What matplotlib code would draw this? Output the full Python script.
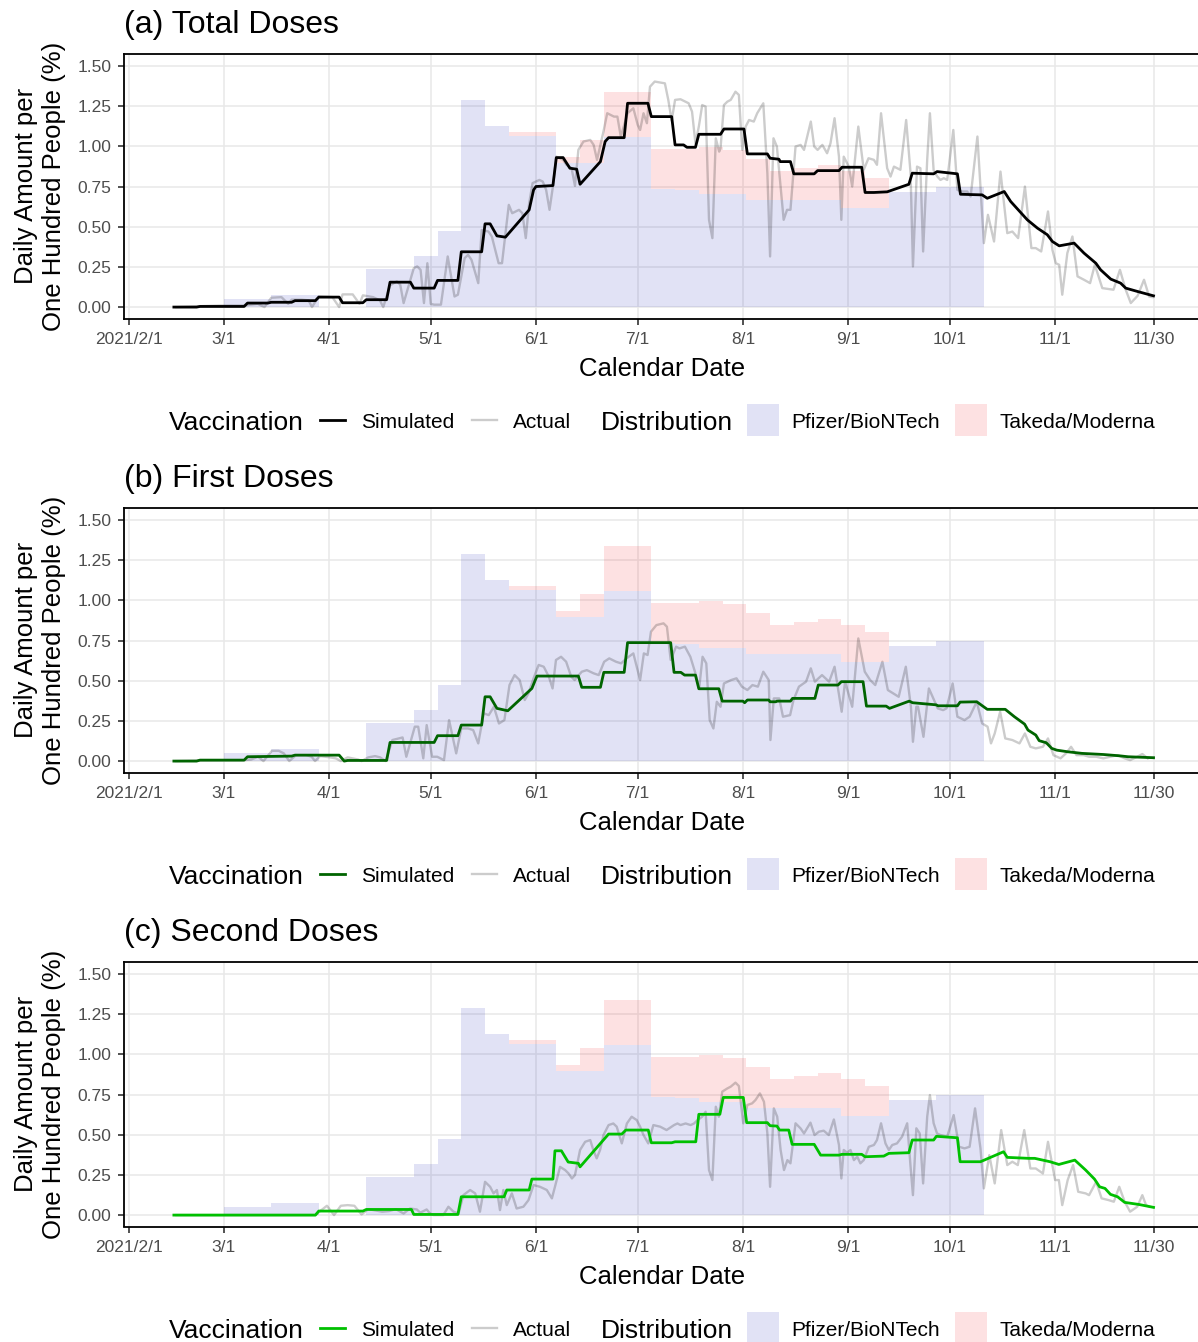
import numpy as np
import matplotlib
matplotlib.use('Agg')
import matplotlib.pyplot as plt
from matplotlib.lines import Line2D
from matplotlib.patches import Rectangle

# ---------------- data (days since 2021-02-01) ----------------
tick_dates = ['2021-02-01', '2021-03-01', '2021-04-01', '2021-05-01', '2021-06-01', '2021-07-01',
              '2021-08-01', '2021-09-01', '2021-10-01', '2021-11-01', '2021-11-30']
tick_labels = ['2021/2/1', '3/1', '4/1', '5/1', '6/1', '7/1', '8/1', '9/1', '10/1', '11/1', '11/30']
y_ticks = [0.0, 0.25, 0.5, 0.75, 1.0, 1.25, 1.5]

# weekly distribution (week start day, amount per 100 people)
dist_day = [28, 35, 42, 49, 56, 63, 70, 77, 84, 91, 98, 105, 112, 119, 126, 133, 140, 147, 154,
            161, 168, 175, 182, 189, 196, 203, 210, 217, 224, 231, 238, 245, 252]
pfizer = [0.052, 0.052, 0.073, 0.073, 0.0, 0.0, 0.24, 0.24, 0.317, 0.475, 1.288, 1.127, 1.062, 1.062,
          0.896, 0.896, 1.06, 1.06, 0.733, 0.729, 0.705, 0.705, 0.664, 0.664, 0.664, 0.664, 0.614,
          0.614, 0.718, 0.718, 0.744, 0.744, 0.0]
takeda = [0, 0, 0, 0, 0, 0, 0, 0, 0, 0, 0, 0, 0.028, 0.028, 0.039, 0.142, 0.277, 0.277, 0.252,
          0.256, 0.293, 0.272, 0.255, 0.18, 0.201, 0.222, 0.23, 0.186, 0, 0, 0, 0, 0]

# (a) total doses
total_sim_day = [13.3, 20, 21, 34, 35, 41, 42, 48, 49, 55, 56, 62, 63, 69, 70, 76, 77, 83, 84, 90, 91, 97,
                 98, 104, 105, 106.5, 108.5, 111, 118, 119.3, 120, 125, 126, 128, 130, 132, 133, 139,
                 140.4, 141.4, 146, 147, 153, 154, 160, 161, 163.5, 164.5, 167, 168, 174.4, 175.4,
                 181.3, 182.3, 188.2, 189, 191.6, 192, 195, 196, 202, 203, 209.3, 210.2, 216, 217,
                 219.6, 223.5, 229.9, 230.9, 237.2, 238.2, 244.2, 245.1, 251.5, 253, 258, 259.9, 264.8,
                 267.8, 270.7, 272.2, 274.2, 278.6, 281.5, 285, 286.4, 289.4, 292.3, 293.8, 297.3, 302]
total_sim = [0.0, 0.0, 0.004, 0.004, 0.025, 0.025, 0.03, 0.03, 0.04, 0.04, 0.062, 0.062, 0.027, 0.027,
             0.046, 0.046, 0.155, 0.155, 0.118, 0.118, 0.166, 0.166, 0.344, 0.344, 0.518, 0.518, 0.443,
             0.435, 0.605, 0.729, 0.75, 0.756, 0.93, 0.93, 0.864, 0.858, 0.764, 0.905, 1.03, 1.054,
             1.054, 1.268, 1.268, 1.185, 1.185, 1.009, 1.009, 0.994, 0.994, 1.075, 1.075, 1.108,
             1.108, 0.953, 0.953, 0.926, 0.92, 0.905, 0.905, 0.829, 0.829, 0.849, 0.849, 0.87, 0.87,
             0.713, 0.713, 0.717, 0.764, 0.833, 0.829, 0.843, 0.829, 0.702, 0.698, 0.677, 0.719,
             0.657, 0.543, 0.491, 0.45, 0.408, 0.381, 0.398, 0.336, 0.273, 0.232, 0.174, 0.149,
             0.118, 0.097, 0.070]
total_act_day = [14, 20, 27, 34, 38, 40, 42, 45, 47, 48, 51, 53, 54, 56, 60, 62, 63, 66, 68, 69, 72, 74,
                 75, 77, 79, 80, 81, 84, 85, 86, 87, 88, 89, 90, 92, 94, 96, 97, 99, 100, 101, 103,
                 104, 106, 107, 109, 110, 112, 113, 115, 116, 117, 118, 119, 121, 122, 123, 124, 125,
                 126, 128, 129, 130.5, 131.5, 132.5, 134, 136, 137, 138, 140, 141, 143, 144, 145, 147,
                 148.7, 150, 150.7, 151.7, 152.7, 153.6, 155, 157, 158, 159, 160, 161, 162.6, 164, 165,
                 166, 167, 168, 169, 170, 171, 172, 173, 174, 174.4, 175.4, 176.4, 177.4, 178.8,
                 179.8, 180.8, 181.8, 182.8, 184.2, 185.2, 187, 188.2, 189, 190, 191, 192, 193, 194,
                 195, 196.5, 198, 199, 201, 202, 203, 204.4, 205.8, 206.8, 208, 209.3, 210, 210.7,
                 212.2, 213.2, 215, 216.6, 218, 219.6, 220.5, 221.7, 223.5, 224.5, 225.5, 227.4,
                 229.1, 230.4, 231.1, 232.3, 233.3, 234.1, 235.3, 236.1, 237.2, 238.3, 239.2, 240.2,
                 241.2, 243, 244.2, 245.6, 247.1, 248.1, 250.1, 252, 253.2, 255, 256.9, 258.9, 260.4,
                 262.1, 264.1, 266, 267.3, 268.9, 270.9, 272.2, 273.2, 274.2, 275.1, 276.6, 278.1,
                 279.6, 281.5, 283.3, 284.7, 286.9, 288.9, 290.2, 292.1, 293.8, 295.3, 297.3, 299.2,
                 300.7, 301.7]
total_act = [0.0, 0.005, 0.01, 0.01, 0.02, 0.0, 0.058, 0.062, 0.02, 0.046, 0.046, 0.042, 0.0, 0.067,
             0.062, 0.0, 0.079, 0.079, 0.02, 0.073, 0.062, 0.042, 0.0, 0.135, 0.16, 0.14, 0.025,
             0.242, 0.253, 0.232, 0.025, 0.273, 0.02, 0.015, 0.015, 0.315, 0.066, 0.077, 0.305,
             0.325, 0.294, 0.149, 0.48, 0.47, 0.439, 0.273, 0.273, 0.636, 0.584, 0.605, 0.584,
             0.429, 0.646, 0.771, 0.791, 0.781, 0.729, 0.605, 0.75, 0.936, 0.916, 0.885, 0.864,
             0.754, 0.978, 1.03, 1.04, 1.009, 0.916, 1.102, 1.206, 1.185, 1.185, 1.061, 1.206,
             1.237, 1.133, 1.102, 1.206, 1.144, 1.371, 1.403, 1.396, 1.392, 1.289, 1.16, 1.289,
             1.293, 1.278, 1.268, 1.216, 1.019, 1.123, 1.257, 1.247, 0.543, 0.429, 1.05, 0.967,
             0.988, 1.257, 1.278, 1.289, 1.34, 1.32, 0.978, 1.123, 1.164, 1.154, 1.206, 1.268,
             0.833, 0.315, 1.05, 0.999, 0.771, 0.543, 0.605, 0.605, 0.999, 1.009, 0.978, 1.154,
             0.999, 0.978, 1.009, 0.957, 1.019, 1.175, 0.936, 0.543, 0.936, 0.874, 0.75, 1.123,
             0.854, 0.926, 0.916, 0.885, 1.206, 0.864, 0.812, 0.874, 0.854, 1.164, 0.833, 0.253,
             0.874, 0.864, 0.346, 0.916, 1.206, 0.85, 0.812, 0.791, 0.802, 0.791, 1.102, 0.729,
             0.719, 0.719, 0.688, 1.061, 0.398, 0.574, 0.408, 0.843, 0.46, 0.47, 0.429, 0.75,
             0.367, 0.367, 0.346, 0.595, 0.356, 0.273, 0.263, 0.077, 0.336, 0.439, 0.191, 0.17,
             0.149, 0.263, 0.118, 0.112, 0.108, 0.232, 0.108, 0.025, 0.07, 0.17, 0.066, 0.062]

# (b) first doses
first_sim_day = [13.3, 20, 21, 34, 35, 48, 49, 62, 63.5, 64.5, 76, 77, 90, 91, 97, 98, 104, 105, 106.5,
                 108.5, 111.7, 118.8, 120.3, 132.5, 133.5, 139, 140, 146, 147, 159.7, 160.7, 162.7,
                 163.8, 167, 168, 173.9, 174.9, 181, 181.5, 182.3, 188.6, 189, 190.7, 191, 195, 195.6,
                 202.2, 203.2, 209, 210, 216.4, 217.4, 223.2, 224.2, 230, 231, 237.9, 238.5, 244.2,
                 245, 249.9, 253, 258.3, 261, 264, 265, 267.3, 268.3, 270.4, 272, 273.5, 276.7, 280.9,
                 287.2, 291.9, 294.5, 302]
first_sim = [0.0, 0.0, 0.006, 0.006, 0.027, 0.031, 0.037, 0.037, 0.0, 0.004, 0.004, 0.116, 0.116,
             0.158, 0.158, 0.224, 0.224, 0.40, 0.40, 0.328, 0.313, 0.452, 0.529, 0.529, 0.459, 0.459,
             0.552, 0.552, 0.737, 0.737, 0.552, 0.552, 0.535, 0.535, 0.45, 0.45, 0.373, 0.373, 0.363,
             0.38, 0.38, 0.369, 0.369, 0.373, 0.373, 0.39, 0.39, 0.473, 0.473, 0.494, 0.494, 0.342,
             0.342, 0.328, 0.373, 0.363, 0.35, 0.344, 0.344, 0.367, 0.369, 0.322, 0.322, 0.276, 0.23,
             0.193, 0.162, 0.127, 0.114, 0.079, 0.068, 0.058, 0.048, 0.041, 0.033, 0.027, 0.021]
first_act_day = [14, 20, 34, 36.1, 38.1, 39.7, 42.2, 44.2, 45.7, 47.3, 49.3, 52.3, 53.9, 54.9, 56.4, 59.4,
                 61, 62.5, 64.5, 67.6, 68.6, 70.6, 72.6, 74.1, 75.7, 77.7, 80.7, 81.8, 84.3, 85.3, 86.8,
                 87.8, 89.4, 90.9, 92.9, 94.4, 96.5, 98, 100, 101.5, 103, 104.6, 106.1, 107.6, 109.1,
                 110.7, 112.2, 113.7, 115.2, 116.7, 117.8, 119.3, 120.8, 122.3, 123.8, 124.9, 125.9,
                 127.4, 128.9, 130.4, 131.4, 133.5, 135, 137, 138.5, 140.1, 141.6, 143.6, 145.1, 146.7,
                 148.7, 150.7, 151.8, 152.9, 153.9, 155.5, 157.6, 158.6, 159.7, 161.3, 162.3, 163.9,
                 165.5, 167, 168.1, 169.1, 170.2, 171.2, 172.3, 173.3, 174.4, 175.4, 177.5, 179.1,
                 180.7, 182.3, 183.8, 185.4, 187, 188.6, 189.1, 190.1, 191.7, 192.8, 194.9, 195.9,
                 197.5, 199.6, 201, 202.2, 204.3, 206.4, 208, 210.1, 211.1, 213.2, 215, 216.9, 218.5,
                 220, 222.1, 223.7, 225.3, 226.9, 229, 230.5, 231.1, 232.1, 232.6, 234.2, 235.8,
                 237.3, 238.4, 240, 241, 242.8, 244.2, 246.3, 247.8, 249.9, 251.5, 253.1, 254.1, 255.2,
                 256.8, 258.3, 260.4, 262.5, 264.1, 265.7, 267.3, 269.4, 270.9, 272.5, 274.6, 276.2,
                 277.7, 279.3, 281.4, 283, 285.1, 287.2, 289.3, 291.4, 293.5, 295.1, 297.2, 298.7,
                 300.3]
first_act = [0.0, 0.004, 0.006, 0.01, 0.027, 0.0, 0.064, 0.064, 0.048, 0.0, 0.037, 0.037, 0.027, 0.0,
             0.031, 0.023, 0.017, 0.0, 0.023, 0.01, 0.0, 0.023, 0.031, 0.023, 0.0, 0.131, 0.147,
             0.027, 0.214, 0.214, 0.017, 0.224, 0.027, 0.027, 0.006, 0.255, 0.048, 0.203, 0.203,
             0.193, 0.11, 0.297, 0.286, 0.338, 0.234, 0.255, 0.473, 0.535, 0.504, 0.38, 0.421,
             0.515, 0.598, 0.587, 0.525, 0.452, 0.629, 0.649, 0.618, 0.525, 0.504, 0.556, 0.566,
             0.546, 0.535, 0.618, 0.639, 0.618, 0.608, 0.639, 0.67, 0.504, 0.67, 0.66, 0.805, 0.846,
             0.857, 0.836, 0.629, 0.712, 0.701, 0.712, 0.649, 0.546, 0.452, 0.649, 0.608, 0.255,
             0.203, 0.369, 0.338, 0.483, 0.504, 0.515, 0.463, 0.442, 0.473, 0.463, 0.556, 0.504,
             0.131, 0.39, 0.39, 0.276, 0.286, 0.38, 0.463, 0.494, 0.577, 0.494, 0.535, 0.494, 0.587,
             0.307, 0.494, 0.338, 0.763, 0.556, 0.504, 0.473, 0.618, 0.442, 0.421, 0.40, 0.587,
             0.338, 0.12, 0.338, 0.338, 0.151, 0.452, 0.38, 0.328, 0.317, 0.328, 0.483, 0.276,
             0.255, 0.276, 0.369, 0.234, 0.214, 0.11, 0.172, 0.307, 0.141, 0.131, 0.11, 0.172,
             0.089, 0.079, 0.089, 0.141, 0.037, 0.017, 0.048, 0.089, 0.037, 0.037, 0.027, 0.027,
             0.017, 0.027, 0.037, 0.017, 0.006, 0.027, 0.044, 0.017]

# (c) second doses
second_sim_day = [13.3, 55, 56, 69, 70, 83.3, 84, 97, 98, 110.6, 111.4, 118, 118.8, 125, 125.6, 127.5,
                  129.5, 132.5, 133, 141.4, 145.3, 146.5, 153.1, 154, 160, 161, 167.1, 168, 174.2,
                  175.2, 181.1, 182.1, 188.2, 189, 191, 191.8, 194.5, 195.5, 202, 203.9, 209.3, 210.2,
                  216, 217, 222.5, 224, 229.9, 230.9, 237.2, 238, 244.2, 245, 251, 257.8, 258.9, 265.2,
                  267, 271.5, 274.1, 278.8, 282, 284.6, 286.1, 287.7, 289.3, 291.4, 293.5, 297.7, 302]
second_sim = [0.0, 0.0, 0.025, 0.025, 0.035, 0.035, 0.004, 0.004, 0.114, 0.114, 0.156, 0.156, 0.224,
              0.224, 0.40, 0.40, 0.33, 0.322, 0.30, 0.504, 0.504, 0.529, 0.529, 0.45, 0.45, 0.456,
              0.456, 0.627, 0.627, 0.732, 0.732, 0.575, 0.575, 0.556, 0.554, 0.529, 0.529, 0.44, 0.44,
              0.373, 0.373, 0.378, 0.378, 0.363, 0.367, 0.384, 0.388, 0.467, 0.467, 0.49, 0.481, 0.332,
              0.332, 0.394, 0.359, 0.353, 0.353, 0.332, 0.315, 0.342, 0.28, 0.224, 0.176, 0.166, 0.129,
              0.114, 0.079, 0.066, 0.048]
second_act_day = [14, 55, 56.4, 58.4, 60.5, 62.5, 64.5, 66.5, 68.6, 70.6, 74.7, 76.7, 78.7, 81, 82.9,
                  84.9, 85.9, 87.8, 88.8, 89.8, 92.7, 94.2, 95.7, 97.2, 98.6, 100.6, 102.1, 103.5, 105,
                  106.5, 107.5, 108.5, 109.4, 110.4, 111.4, 112.9, 114.3, 116.3, 117.8, 119.3, 121.2,
                  123.2, 124.7, 125.6, 127.1, 128.6, 129.6, 130.6, 131.5, 133, 134.5, 136, 136.9, 137.9,
                  138.9, 139.9, 141.4, 142.8, 143.8, 145.3, 146.8, 148.2, 149.7, 150.7, 151.7, 153.1,
                  154.6, 156.6, 158.5, 160.7, 161.7, 162.6, 164.1, 165.6, 166.6, 167.6, 169, 170, 171,
                  172, 173, 173.9, 174.9, 176.4, 177.4, 178.8, 179.8, 181.1, 182.3, 183.7, 184.7, 186,
                  187.2, 188.2, 189, 190.1, 191.1, 192.1, 193.1, 194.1, 195, 196.5, 198, 199, 200.9,
                  202.1, 203.4, 204.8, 206.3, 207.8, 209.3, 210, 210.7, 211.7, 212.7, 213.7, 214.7,
                  215.6, 216.6, 218.1, 219.6, 220.5, 221.7, 223, 224, 225, 226.4, 227.9, 229.4, 230.4,
                  231.1, 232.1, 233.1, 234.1, 235.3, 236.1, 237.2, 238.2, 239.2, 241.2, 243.1, 244.7,
                  246.3, 247.8, 249.4, 251, 252, 253.6, 255.2, 257.1, 258.9, 260.4, 262, 263.9, 265.7,
                  267.3, 269.4, 270.9, 273, 274.1, 275.1, 276.7, 278.3, 279.8, 282, 283, 285.1, 286.7,
                  288.8, 290.3, 291.9, 293.5, 295.1, 297.2, 298.7, 299.8, 300.8]
second_act = [0.0, 0.0, 0.025, 0.058, 0.0, 0.058, 0.062, 0.058, 0.004, 0.037, 0.021, 0.025, 0.037, 0.01,
              0.041, 0.035, 0.015, 0.035, 0.01, 0.0, 0.0, 0.052, 0.021, 0.01, 0.124, 0.156, 0.135,
              0.021, 0.207, 0.176, 0.135, 0.156, 0.031, 0.156, 0.062, 0.135, 0.041, 0.052, 0.093,
              0.187, 0.176, 0.156, 0.104, 0.176, 0.30, 0.28, 0.259, 0.228, 0.249, 0.405, 0.456, 0.467,
              0.405, 0.353, 0.405, 0.498, 0.56, 0.57, 0.55, 0.446, 0.57, 0.612, 0.591, 0.55, 0.498,
              0.446, 0.56, 0.55, 0.529, 0.56, 0.57, 0.56, 0.57, 0.56, 0.57, 0.591, 0.612, 0.643, 0.28,
              0.218, 0.674, 0.612, 0.768, 0.788, 0.799, 0.824, 0.803, 0.571, 0.685, 0.695, 0.716,
              0.757, 0.705, 0.508, 0.176, 0.664, 0.612, 0.405, 0.28, 0.342, 0.322, 0.571, 0.539,
              0.508, 0.575, 0.498, 0.519, 0.525, 0.498, 0.595, 0.436, 0.228, 0.405, 0.388, 0.405,
              0.342, 0.363, 0.322, 0.342, 0.425, 0.436, 0.467, 0.571, 0.446, 0.405, 0.436, 0.446,
              0.488, 0.571, 0.301, 0.124, 0.54, 0.508, 0.197, 0.612, 0.747, 0.571, 0.508, 0.498,
              0.488, 0.622, 0.425, 0.415, 0.425, 0.664, 0.415, 0.166, 0.373, 0.197, 0.529, 0.311,
              0.332, 0.311, 0.529, 0.29, 0.29, 0.259, 0.456, 0.218, 0.218, 0.062, 0.218, 0.311, 0.145,
              0.135, 0.124, 0.207, 0.104, 0.093, 0.083, 0.176, 0.083, 0.021, 0.052, 0.124, 0.062,
              0.052]

panels = [
    ('(a) Total Doses', total_sim_day, total_sim, total_act_day, total_act, '#000000'),
    ('(b) First Doses', first_sim_day, first_sim, first_act_day, first_act, '#006400'),
    ('(c) Second Doses', second_sim_day, second_sim, second_act_day, second_act, '#00C000'),
]

# ---------------- style ----------------
plt.rcParams['font.family'] = ['Liberation Sans', 'DejaVu Sans']
W, H = 1198, 1342
fig = plt.figure(figsize=(W / 100, H / 100), dpi=100)

def fx(px):
    return px / W

def fy(py):
    return 1 - py / H

PF_COL = (55 / 255, 62 / 255, 188 / 255, 0.15)
TK_COL = (242 / 255, 55 / 255, 62 / 255, 0.15)
ACT_COL = (0, 0, 0, 0.2)
GRID = '#E8E8E8'
TXT = '#4D4D4D'

base = np.datetime64('2021-02-01')
tick_pos = [(np.datetime64(t) - base) / np.timedelta64(1, 'D') for t in tick_dates]
dd = np.array(dist_day, float)
pf = np.array(pfizer)
tk = np.array(takeda)

for i, (title, sd, sv, ad, av, scol) in enumerate(panels):
    off = 454 * i
    top, bot = 54 + off, 318.5 + off
    left, right = 124, 1199
    ax = fig.add_axes([fx(left), fy(bot), fx(right) - fx(left), (bot - top) / H])
    ax.set_xlim(-1.4, 315.4)
    ax.set_ylim(-0.071, 1.5745)
    ax.set_axisbelow(True)
    ax.grid(True, color=GRID, lw=1.1)

    ax.fill_between(dd, 0, pf, step='post', facecolor=PF_COL, lw=0)
    ax.fill_between(dd, pf, pf + tk, step='post', facecolor=TK_COL, lw=0)
    ax.plot(ad, av, color=ACT_COL, lw=1.7, solid_joinstyle='round')
    ax.plot(sd, sv, color=scol, lw=2.0, solid_joinstyle='round')

    ax.set_xticks(tick_pos)
    ax.set_xticklabels(tick_labels)
    ax.set_yticks(y_ticks)
    ax.set_yticklabels(['%.2f' % v for v in y_ticks])
    ax.tick_params(axis='both', labelsize=12.5, labelcolor=TXT, color='#222222',
                   length=4, width=1.1, direction='out')
    ax.tick_params(axis='x', pad=6)
    ax.tick_params(axis='y', pad=5)
    for s in ax.spines.values():
        s.set_linewidth(1.3)
        s.set_color('black')

    # title
    fig.text(fx(124), fy(33 + off), title, fontsize=23, ha='left', va='baseline')
    # x label
    fig.text(fx(662), fy(376 + off), 'Calendar Date', fontsize=18.5, ha='center', va='baseline')
    # y label (two lines)
    yc = fy((top + bot) / 2)
    fig.text(fx(33), yc, 'Daily Amount per', fontsize=18.5, rotation=90,
             rotation_mode='anchor', ha='center', va='baseline')
    fig.text(fx(61), yc, 'One Hundred People (%)', fontsize=18.5, rotation=90,
             rotation_mode='anchor', ha='center', va='baseline')

    # legend
    ly = 420 + off
    fig.text(fx(169), fy(ly + 9.5), 'Vaccination', fontsize=19, ha='left', va='baseline')
    fig.add_artist(Line2D([fx(320), fx(345)], [fy(ly), fy(ly)], color=scol, lw=2.0,
                          transform=fig.transFigure))
    fig.text(fx(361), fy(ly + 7.5), 'Simulated', fontsize=15, ha='left', va='baseline')
    fig.add_artist(Line2D([fx(472), fx(497)], [fy(ly), fy(ly)], color=ACT_COL, lw=1.7,
                          transform=fig.transFigure))
    fig.text(fx(513), fy(ly + 7.5), 'Actual', fontsize=15, ha='left', va='baseline')
    fig.text(fx(601), fy(ly + 9.5), 'Distribution', fontsize=19, ha='left', va='baseline')
    fig.add_artist(Rectangle((fx(747), fy(ly + 16)), fx(32), 32 / H, facecolor=PF_COL, lw=0,
                             transform=fig.transFigure))
    fig.text(fx(791), fy(ly + 7.5), 'Pfizer/BioNTech', fontsize=15, ha='left', va='baseline')
    fig.add_artist(Rectangle((fx(955), fy(ly + 16)), fx(32), 32 / H, facecolor=TK_COL, lw=0,
                             transform=fig.transFigure))
    fig.text(fx(999), fy(ly + 7.5), 'Takeda/Moderna', fontsize=15, ha='left', va='baseline')

fig.savefig('out.png', dpi=100)
